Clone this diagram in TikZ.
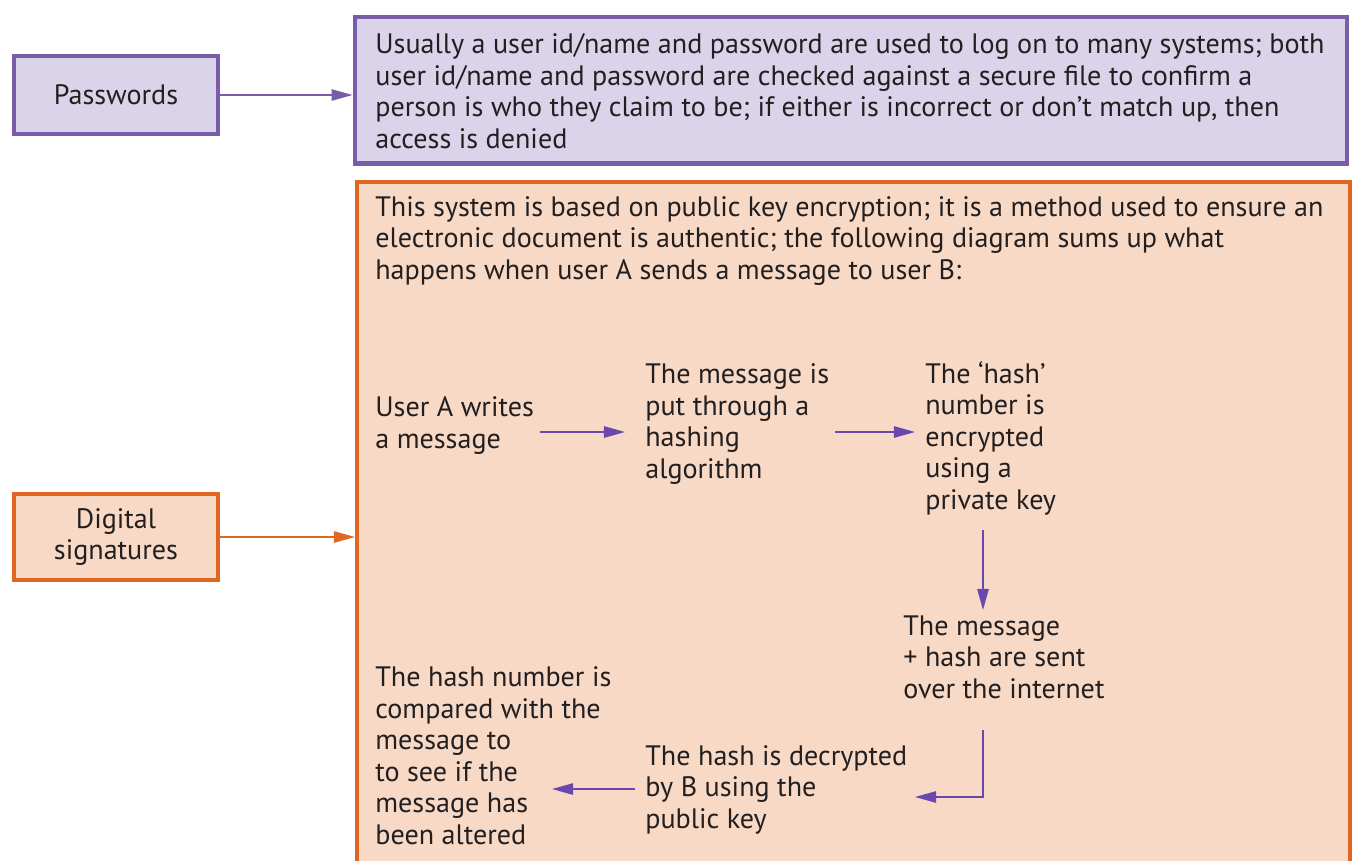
\documentclass[tikz,border=0pt]{standalone}
\usepackage{fontspec}
\setmainfont{PT Sans}
\usepackage{tikz}
\usetikzlibrary{arrows.meta, positioning, calc}

\definecolor{pwdline}{HTML}{7A5CA8}
\definecolor{pwdfill}{HTML}{D9D4EA}
\definecolor{sigline}{HTML}{E0671F}
\definecolor{sigfill}{HTML}{F7D9C6}
\definecolor{flowcol}{HTML}{6A47AE}
\definecolor{ink}{HTML}{231F20}

\begin{document}
\begin{tikzpicture}[
    x=0.02cm, y=-0.02cm,
    font=\fontsize{16}{17.9}\selectfont, text=ink,
    pwdbox/.style={rectangle, draw=pwdline, line width=2.3pt, fill=pwdfill, align=center},
    sigbox/.style={rectangle, draw=sigline, line width=2.3pt, fill=sigfill, align=center},
    para/.style={inner sep=0pt, align=left, anchor=base west},
    arrow/.style={-{Triangle[length=12pt, width=6.5pt]}, line width=0.8pt},
    flow/.style={-{Triangle[length=12pt, width=6.5pt]}, line width=0.8pt, draw=flowcol}
]
    \useasboundingbox (0,0) rectangle (1354,860);

    % left hand labels
    \node[pwdbox, minimum width=4.08cm, minimum height=1.56cm] (passwords) at (116,95) {Passwords};
    \node[sigbox, minimum width=4.08cm, minimum height=1.72cm] (digsig) at (116,537) {Digital\\signatures};

    % right hand boxes
    \node[pwdbox, minimum width=19.86cm, minimum height=2.94cm] (pwdinfo) at (851,90) {};
    \node[sigbox, anchor=north west, minimum width=19.86cm, minimum height=14.6cm] (siginfo) at (355,180) {};

    \draw[arrow, draw=pwdline] (passwords.east) -- (passwords.east -| pwdinfo.west);
    \draw[arrow, draw=sigline] (digsig.east) -- (digsig.east -| siginfo.west);

    % texts (placed by the baseline of their last line)
    \node[para] (pwdtext) at (375,148) {Usually a user id/name and password are used to log on to many systems; both\\
        user id/name and password are checked against a secure file to confirm a\\
        person is who they claim to be; if either is incorrect or don’t match up, then\\
        access is denied};
    \node[para] (sigtext) at (375,279) {This system is based on public key encryption; it is a method used to ensure an\\
        electronic document is authentic; the following diagram sums up what\\
        happens when user A sends a message to user B:};

    % the steps
    \node[para] (usera) at (375,448) {User A writes\\a message};
    \node[para] (hashing) at (645,478) {The message is\\put through a\\hashing\\algorithm};
    \node[para] (encrypt) at (925,509) {The ‘hash’\\number is\\encrypted\\using a\\private key};
    \node[para] (sent) at (903,698) {The message\\+ hash are sent\\over the internet};
    \node[para] (decrypt) at (645,828) {The hash is decrypted\\by B using the\\public key};
    \node[para] (compare) at (375,844) {The hash number is\\compared with the\\message to\\to see if the\\message has\\been altered};

    \draw[flow] ($(usera.base west)+(165,-16)$) -- ($(hashing.base west)+(-20,-46)$);
    \draw[flow] ($(hashing.base west)+(190,-46)$) -- ($(encrypt.base west)+(-10,-77)$);
    \draw[flow] ($(encrypt.base west)+(58,21)$) -- ($(sent.base west)+(80,-88)$);
    \draw[flow] ($(sent.base west)+(80,32)$) |- ($(decrypt.base west)+(270,-31)$);
    \draw[flow] ($(decrypt.base west)+(-10,-39)$) -- ($(compare.base west)+(177,-55)$);

\end{tikzpicture}
\end{document}
